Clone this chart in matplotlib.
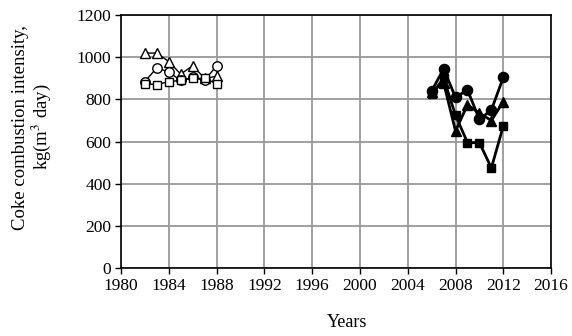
import numpy as np
import matplotlib
matplotlib.use("Agg")
import matplotlib.pyplot as plt

plt.rcParams['font.family'] = ['Liberation Serif', 'DejaVu Serif']
plt.rcParams['mathtext.fontset'] = 'stix'

# early period (open markers)
years_early = [1982, 1983, 1984, 1985, 1986, 1987, 1988]
sq_early = [875, 870, 885, 890, 900, 900, 875]
ci_early = [885, 950, 930, 890, 905, 890, 960]
tr_early = [1020, 1020, 980, 920, 960, 900, 910]

# late period (filled markers)
years_late = [2006, 2007, 2008, 2009, 2010, 2011, 2012]
sq_late = [825, 900, 725, 595, 595, 475, 675]
ci_late = [840, 945, 810, 845, 705, 750, 905]
tr_late = [835, 880, 650, 775, 735, 700, 790]

xticks = list(range(1980, 2017, 4))
yticks = list(range(0, 1201, 200))

fig = plt.figure(figsize=(5.72, 3.36), dpi=100)
ax = fig.add_axes([0.2115, 0.202, 0.752, 0.753])

ax.grid(True, color='#999999', linewidth=1.3)
ax.set_axisbelow(True)

ms = 6.8
ax.plot(years_early, tr_early, '-^', color='black', lw=1.0, ms=ms, mfc='white', mec='black', mew=1.0)
ax.plot(years_early, ci_early, '-o', color='black', lw=1.0, ms=ms, mfc='white', mec='black', mew=1.0)
ax.plot(years_early, sq_early, '-s', color='black', lw=1.0, ms=ms - 0.5, mfc='white', mec='black', mew=1.0)

ax.plot(years_late, sq_late, '-s', color='black', lw=2.0, ms=ms - 0.5, mfc='black', mec='black')
ax.plot(years_late, tr_late, '-^', color='black', lw=2.0, ms=ms, mfc='black', mec='black')
ax.plot(years_late, ci_late, '-o', color='black', lw=2.0, ms=ms + 0.5, mfc='black', mec='black')

ax.set_xlim(1980, 2016)
ax.set_ylim(0, 1200)
ax.set_xticks(xticks)
ax.set_yticks(yticks)
ax.tick_params(direction='out', length=4, width=1, labelsize=12.5, pad=3)
for s in ax.spines.values():
    s.set_linewidth(1.2)

ax.set_ylabel('Coke combustion intensity,\nkg(m$^3$ day)', fontsize=13.5, linespacing=1.05)
ax.yaxis.set_label_coords(-0.158, 0.557)
ax.set_xlabel('Years', fontsize=13)
ax.xaxis.set_label_coords(0.526, -0.18)

fig.savefig('out.png', dpi=100)
